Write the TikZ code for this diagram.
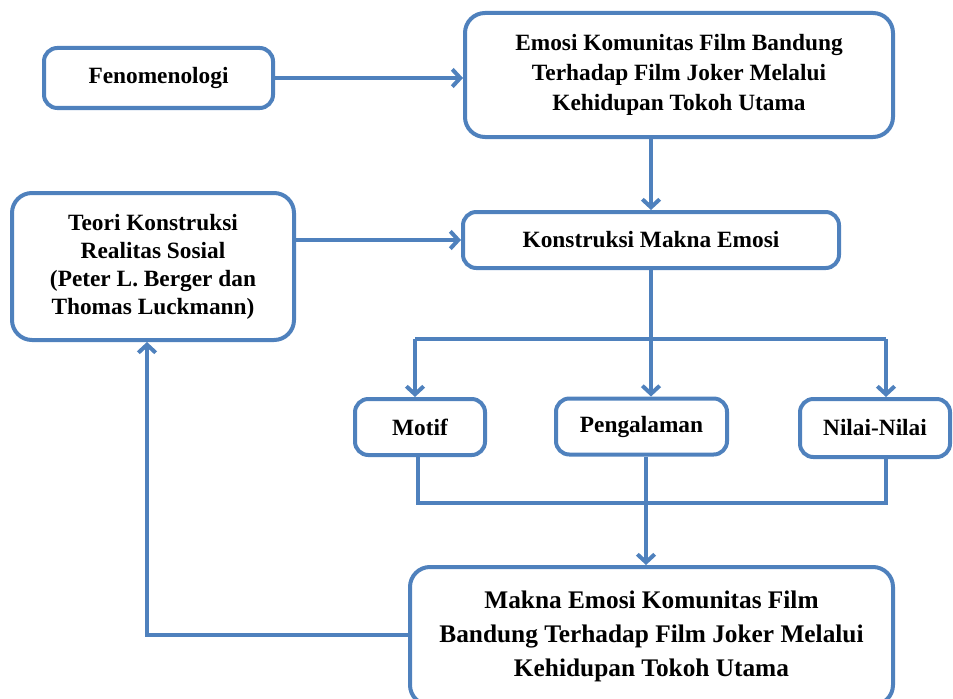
\documentclass[tikz,border=0pt]{standalone}
\usepackage{fontspec}
\setmainfont{Liberation Serif}
\usetikzlibrary{arrows.meta}

\definecolor{birugaris}{RGB}{79,129,189}
\tikzset{
	kotak/.style={draw=birugaris, line width=3pt, rounded corners=10pt, align=center, inner sep=0.75pt,
		font=\fontsize{17.5pt}{22.5pt}\selectfont\bfseries},
	panah/.style={draw=birugaris, line width=3pt, -{Straight Barb[length=6pt,width=13pt]}},
	garis/.style={draw=birugaris, line width=3pt}
}

\begin{document}
\begin{tikzpicture}[x=0.75pt,y=0.75pt,yscale=-1,xscale=1]
	\useasboundingbox (0,0) rectangle (953,699);

	\node [kotak, minimum width=171.75pt, minimum height=45pt] (feno) at (158.5,78) {Fenomenologi};
	\node [kotak, minimum width=321pt, minimum height=93pt, rounded corners=15pt] (emosi) at (679,75) {Emosi Komunitas Film Bandung\\Terhadap Film Joker Melalui\\Kehidupan Tokoh Utama};
	\node [kotak, minimum width=211.5pt, minimum height=110.25pt, rounded corners=15pt, font=\fontsize{17.5pt}{21pt}\selectfont\bfseries] (teori) at (153,266.5) {Teori Konstruksi\\Realitas Sosial\\(Peter L. Berger dan\\Thomas Luckmann)};
	\node [kotak, minimum width=282pt, minimum height=42pt] (konstruksi) at (651,240) {Konstruksi Makna Emosi};

	\node [kotak, minimum width=97.5pt, minimum height=42pt] (motif) at (420,427) {Motif};
	\node [kotak, minimum width=128.25pt, minimum height=42pt] (pengalaman) at (641.5,426.5) {Pengalaman};
	\node [kotak, minimum width=112.5pt, minimum height=43.5pt] (nilai) at (875,428) {Nilai-Nilai};

	\node [kotak, minimum width=362.25pt, minimum height=103.5pt, rounded corners=15pt, font=\fontsize{19pt}{25.5pt}\selectfont\bfseries] (makna) at (651.5,636) {Makna Emosi Komunitas Film\\Bandung Terhadap Film Joker Melalui\\Kehidupan Tokoh Utama};

	% titik belok
	\coordinate (cabangkiri) at (415,339);
	\coordinate (cabangkanan) at (886,339);
	\coordinate (gabungkiri) at (418,503);
	\coordinate (gabungkanan) at (886,503);
	\coordinate (turun) at (646,503);
	\coordinate (sudut) at (147,635);

	\draw [panah] (feno.east) -- (feno.east -| emosi.west);
	\draw [panah] (konstruksi.north |- emosi.south) -- (konstruksi.north);
	\draw [panah] (teori.east |- konstruksi.west) -- (konstruksi.west);
	\draw [panah] (konstruksi.south) -- (konstruksi.south |- pengalaman.north);

	\draw [garis] (cabangkiri) -- (cabangkanan);
	\draw [panah] (cabangkiri) -- (cabangkiri |- motif.north);
	\draw [panah] (cabangkanan) -- (cabangkanan |- nilai.north);

	\draw [garis] (gabungkiri |- motif.south) -- (gabungkiri) -- (gabungkanan) -- (gabungkanan |- nilai.south);
	\draw [panah] (turun |- pengalaman.south) -- (turun |- makna.north);

	\draw [panah] (sudut -| makna.west) -- (sudut) -- (sudut |- teori.south);
\end{tikzpicture}
\end{document}
